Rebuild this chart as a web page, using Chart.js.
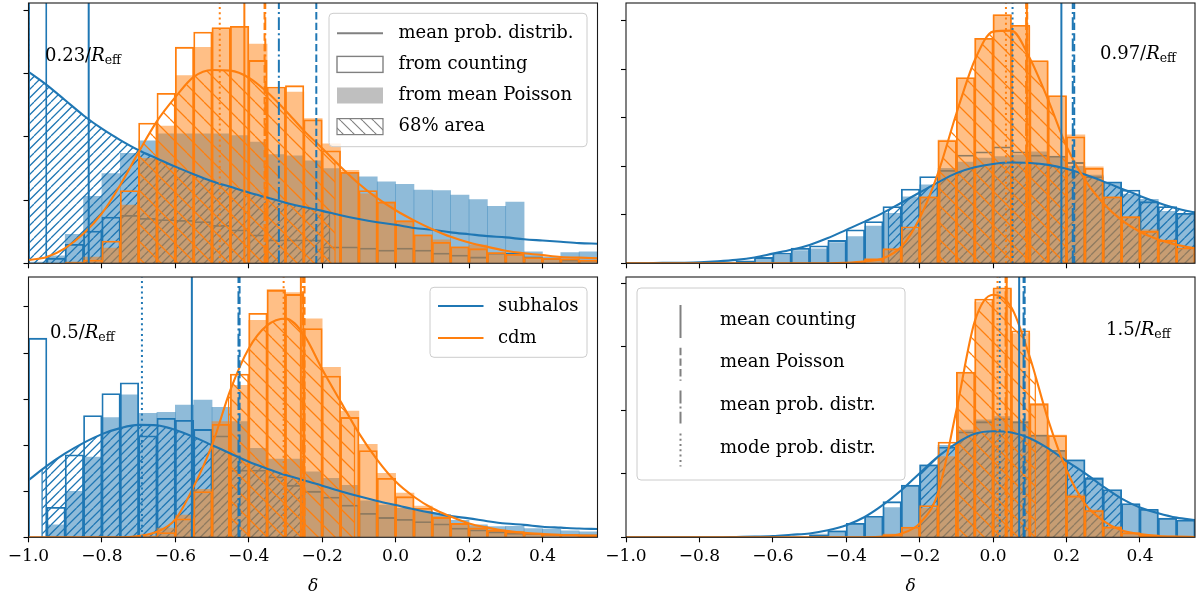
<!DOCTYPE html>
<html><head><meta charset="utf-8">
<script src="https://cdn.jsdelivr.net/npm/chart.js@4.4.1/dist/chart.umd.min.js"></script>
<style>
html,body{margin:0;padding:0;background:#fff;}
body{width:1198px;height:599px;position:relative;overflow:hidden;}
canvas{position:absolute;}
</style></head><body>
<canvas id="c0" width="600" height="270" style="left:0;top:0"></canvas>
<canvas id="c1" width="600" height="270" style="left:598px;top:0"></canvas>
<canvas id="c2" width="600" height="329" style="left:0;top:270px"></canvas>
<canvas id="c3" width="600" height="329" style="left:598px;top:270px"></canvas>
<script>
// ---------------- DATA ----------------
const X_BINS = [-0.975,-0.925,-0.875,-0.825,-0.775,-0.725,-0.675,-0.625,-0.575,-0.525,-0.475,-0.425,-0.375,-0.325,-0.275,-0.225,-0.175,-0.125,-0.075,-0.025,0.025,0.075,0.125,0.175,0.225,0.275,0.325,0.375,0.425,0.475,0.525];
const CURVE_X = [-1.0,-0.95,-0.9,-0.85,-0.8,-0.75,-0.7,-0.65,-0.6,-0.55,-0.5,-0.45,-0.4,-0.35,-0.3,-0.25,-0.2,-0.15,-0.1,-0.05,0.0,0.05,0.1,0.15,0.2,0.25,0.3,0.35,0.4,0.45,0.5,0.55];
const X_TICKS = [-1.0,-0.8,-0.6,-0.4,-0.2,0.0,0.2,0.4];
const SERIES_NAMES = ['subhalos','cdm'];
const DIST_LEGEND = ['mean prob. distrib.','from counting','from mean Poisson','68% area'];
const MARKER_LEGEND = ['mean counting','mean Poisson','mean prob. distr.','mode prob. distr.'];
const PANEL_LABELS = ['0.23','0.97','0.5','1.5'];

// panel 0.23/Reff
const TL_BLUE_POISSON = [0.02,0.12,0.46,1.06,1.42,1.74,1.94,2.05,2.05,2.05,2.05,2.02,1.92,1.72,1.70,1.62,1.50,1.44,1.37,1.29,1.25,1.16,1.15,1.08,1.01,0.90,0.97,0.18,0.10,0.17,0.18];
const TL_BLUE_COUNT = [6.0,0.08,0.30,0.51,0.73,0.76,0.71,0.69,0.68,0.66,0.60,0.53,0.45,0.37,0.37,0.37,0.26,0.26,0.24,0.21,0.24,0.21,0.16,0.13,0.10,0.16,0.16,0.10,0.08,0.05,0.05];
const TL_ORANGE_POISSON = [0,0,0.02,0.10,0.24,0.92,1.66,2.17,2.97,3.42,3.71,3.75,3.47,2.76,2.71,2.29,1.89,1.47,1.10,0.97,0.68,0.45,0.37,0.26,0.29,0.17,0.13,0.10,0.08,0.07,0.05];
const TL_ORANGE_COUNT = [0,0,0.02,0.05,0.35,1.15,2.22,2.69,3.42,3.66,3.73,3.75,3.21,2.79,2.81,2.27,1.78,1.44,1.15,0.97,0.67,0.45,0.33,0.26,0.23,0.17,0.14,0.09,0.08,0.07,0.05];
const TL_BLUE_CURVE = [3.03,2.82,2.58,2.34,2.13,1.95,1.79,1.66,1.53,1.41,1.30,1.21,1.12,1.04,0.96,0.89,0.83,0.76,0.70,0.65,0.61,0.56,0.53,0.49,0.46,0.43,0.41,0.38,0.36,0.34,0.32,0.31];
const TL_ORANGE_CURVE = [0.05,0.10,0.24,0.47,0.79,1.24,1.76,2.25,2.63,2.95,3.06,3.05,2.94,2.71,2.42,2.10,1.82,1.53,1.26,1.03,0.84,0.68,0.54,0.42,0.33,0.26,0.20,0.16,0.13,0.10,0.09,0.08];
const TL_BLUE_HATCH = [-1.0,-0.18,3.03,0.81];     // lo, hi, height at lo, height at hi
const TL_ORANGE_HATCH = [-0.70,-0.165,1.76,1.62];
const TL_BLUE_MARKS = [-0.836,-0.216,-0.318,-1.0]; // mean counting, mean Poisson, mean prob., mode
const TL_ORANGE_MARKS = [-0.412,-0.357,-0.355,-0.479];
const TL_Y_TICKS = [0,1,2,3,4];

// panel 0.97/Reff
const TR_BLUE_POISSON = [0,0,0,0,0,0,0.03,0.08,0.17,0.26,0.30,0.43,0.55,0.77,1.03,1.37,1.62,1.96,2.09,2.17,2.20,2.24,2.30,2.20,2.00,1.82,1.65,1.43,1.32,1.07,1.03];
const TR_BLUE_COUNT = [0,0,0,0,0,0.01,0.05,0.12,0.21,0.31,0.36,0.47,0.69,0.86,1.17,1.53,1.79,1.92,2.23,2.30,2.40,2.30,2.23,2.21,2.08,1.79,1.68,1.51,1.27,1.17,1.03];
const TR_ORANGE_POISSON = [0,0,0,0,0,0,0,0,0,0,0,0,0.02,0.10,0.27,0.69,1.37,2.54,3.81,4.64,5.12,4.88,4.16,3.44,2.65,1.99,1.37,0.96,0.69,0.48,0.31];
const TR_ORANGE_COUNT = [0,0,0,0,0,0,0,0,0,0,0,0,0.01,0.08,0.30,0.75,1.37,2.53,3.83,4.64,5.13,4.91,4.18,3.46,2.61,1.96,1.37,0.96,0.66,0.47,0.32];
const TR_BLUE_CURVE = [0,0,0.01,0.01,0.02,0.04,0.07,0.12,0.20,0.28,0.38,0.52,0.69,0.86,1.04,1.25,1.46,1.67,1.86,1.98,2.05,2.08,2.07,2.03,1.95,1.83,1.69,1.54,1.39,1.25,1.13,1.05];
const TR_ORANGE_CURVE = [0,0,0,0,0,0,0,0,0,0,0,0,0.01,0.04,0.10,0.34,0.93,1.86,3.09,4.19,4.78,4.80,4.23,3.37,2.41,1.72,1.24,0.89,0.65,0.49,0.38,0.31];
const TR_BLUE_HATCH = [-0.285,0.55,1.10,1.05];
const TR_ORANGE_HATCH = [-0.145,0.20,1.98,2.41];
const TR_BLUE_MARKS = [0.186,0.221,0.217,0.053];
const TR_ORANGE_MARKS = [0.092,0.093,0.090,0.035];
const TR_Y_TICKS = [0,1,2,3,4,5];

// panel 0.5/Reff
const BL_BLUE_POISSON = [0,0.27,1.00,1.74,2.60,3.09,2.69,2.71,2.87,2.98,2.82,2.51,1.93,1.70,1.70,1.42,1.28,1.13,0.79,0.70,0.63,0.57,0.50,0.37,0.27,0.23,0.24,0.19,0.18,0.14,0.12];
const BL_BLUE_COUNT = [4.32,0.65,1.79,2.64,3.12,3.35,2.20,2.58,2.54,2.34,2.20,1.46,1.46,1.31,1.13,1.00,0.87,0.70,0.52,0.43,0.39,0.34,0.29,0.20,0.16,0.12,0.09,0.08,0.07,0.06,0.05];
const BL_ORANGE_POISSON = [0,0,0,0,0,0,0.03,0.20,0.48,1.04,2.51,3.30,4.71,5.38,5.31,4.74,3.69,2.74,2.02,1.39,0.96,0.68,0.45,0.30,0.23,0.16,0.12,0.09,0.07,0.06,0.05];
const BL_ORANGE_COUNT = [0,0,0,0,0,0,0.02,0.10,0.40,0.99,2.45,3.54,4.86,5.36,5.27,4.53,3.50,2.60,1.88,1.28,0.88,0.63,0.43,0.30,0.20,0.15,0.12,0.09,0.07,0.06,0.05];
const BL_BLUE_CURVE = [1.24,1.55,1.82,2.05,2.24,2.37,2.44,2.43,2.33,2.18,2.00,1.82,1.64,1.49,1.35,1.24,1.12,1.00,0.89,0.79,0.70,0.61,0.53,0.46,0.41,0.35,0.30,0.27,0.23,0.21,0.19,0.18];
const BL_ORANGE_CURVE = [0,0,0,0,0,0,0.03,0.12,0.39,1.10,2.00,3.20,4.10,4.60,4.75,4.40,3.65,2.95,2.26,1.68,1.21,0.88,0.63,0.45,0.30,0.21,0.14,0.10,0.07,0.05,0.04,0.03];
const BL_BLUE_HATCH = [-0.963,-0.25,1.47,1.24];
const BL_ORANGE_HATCH = [-0.455,-0.112,3.10,2.42];
const BL_BLUE_MARKS = [-0.555,-0.425,-0.428,-0.691];
const BL_ORANGE_MARKS = [-0.258,-0.248,-0.252,-0.305];
const BL_Y_TICKS = [0,1,2,3,4,5];

// panel 1.5/Reff
const BR_BLUE_POISSON = [0,0,0,0,0,0,0,0,0,0,0.05,0.10,0.21,0.30,0.47,0.80,1.14,1.45,1.69,1.85,1.90,1.82,1.61,1.37,1.22,0.94,0.73,0.52,0.42,0.30,0.26];
const BR_BLUE_COUNT = [0,0,0,0,0,0,0,0,0,0,0.03,0.10,0.22,0.33,0.56,0.82,1.14,1.42,1.66,1.82,1.87,1.82,1.61,1.37,1.22,0.93,0.75,0.53,0.44,0.30,0.27];
const BR_ORANGE_POISSON = [0,0,0,0,0,0,0,0,0,0,0,0,0,0,0.05,0.14,0.46,1.27,2.57,3.71,3.90,3.21,2.11,1.61,0.67,0.43,0.17,0.08,0.04,0.02,0.01];
const BR_ORANGE_COUNT = [0,0,0,0,0,0,0,0,0,0,0,0,0,0,0.04,0.16,0.50,1.50,2.60,3.75,3.93,3.25,2.10,1.60,0.65,0.42,0.16,0.07,0.03,0.02,0.01];
const BR_BLUE_CURVE = [0,0,0,0,0,0,0.005,0.01,0.02,0.04,0.06,0.11,0.19,0.32,0.51,0.74,1.01,1.27,1.48,1.63,1.67,1.65,1.56,1.40,1.20,1.01,0.80,0.61,0.47,0.38,0.31,0.27];
const BR_ORANGE_CURVE = [0,0,0,0,0,0,0,0,0,0,0,0,0,0,0.01,0.06,0.22,0.70,2.00,3.40,3.82,3.62,2.84,1.85,1.06,0.53,0.26,0.11,0.05,0.02,0.01,0.005];
const BR_BLUE_HATCH = [-0.20,0.35,1.01,0.61];
const BR_ORANGE_HATCH = [-0.095,0.115,2.15,2.55];
const BR_BLUE_MARKS = [0.071,0.086,0.083,0.018];
const BR_ORANGE_MARKS = [0.037,0.036,0.034,0.012];
const BR_Y_TICKS = [0,1,2,3,4];

// ---------------- STYLE ----------------
const FONT = 'DejaVu Serif';
const BLUE = '#1f77b4', ORANGE = '#ff7f0e';
const BLUE_A = 'rgba(31,119,180,0.5)', ORANGE_A = 'rgba(255,127,14,0.5)';
const GRAY = '#808080';
const DASHES = [[], [7.4,3.2], [12.8,3.2,2,3.2], [2,3.3]];
Chart.defaults.font.family = FONT;
Chart.defaults.color = '#000';

function hatch(color, dir, n, S, lw) {
  const c = document.createElement('canvas'); c.width = S; c.height = S;
  const g = c.getContext('2d'); g.strokeStyle = color; g.lineWidth = lw;
  g.beginPath();
  for (let k = -n; k <= n; k++) {
    const x0 = k * S / n;
    if (dir === '/') { g.moveTo(x0, S); g.lineTo(x0 + S, 0); }
    else { g.moveTo(x0, 0); g.lineTo(x0 + S, S); }
  }
  g.stroke();
  return g.createPattern(c, 'repeat');
}
const BLUE_HATCH_PAT = hatch(BLUE, '/', 2, 17, 1.25);
const ORANGE_HATCH_PAT = hatch(ORANGE, '\\', 1, 17, 1.25);
const LEG_HATCH_PAT = hatch(GRAY, '\\', 1, 11, 1.1);

const fmtTick = v => (v < -1e-9 ? '\u2212' : '') + Math.abs(v).toFixed(1);

function rrect(ctx, x, y, w, h, r) {
  ctx.beginPath();
  ctx.moveTo(x + r, y); ctx.lineTo(x + w - r, y); ctx.arcTo(x + w, y, x + w, y + r, r);
  ctx.lineTo(x + w, y + h - r); ctx.arcTo(x + w, y + h, x + w - r, y + h, r);
  ctx.lineTo(x + r, y + h); ctx.arcTo(x, y + h, x, y + h - r, r);
  ctx.lineTo(x, y + r); ctx.arcTo(x, y, x + r, y, r); ctx.closePath();
}
function legendFrame(ctx, x, y, w, h) {
  rrect(ctx, x, y, w, h, 4);
  ctx.fillStyle = 'rgba(255,255,255,0.8)'; ctx.fill();
  ctx.strokeStyle = '#cccccc'; ctx.lineWidth = 1; ctx.stroke();
}
function legText(ctx, s, x, y) {
  ctx.font = `18px ${FONT}`; ctx.fillStyle = '#000'; ctx.textAlign = 'left'; ctx.textBaseline = 'middle';
  ctx.fillText(s, x, y);
}

function makeDecor(L) {
  return {
    id: 'decor',
    afterDraw(chart) {
      const ctx = chart.ctx, a = chart.chartArea;
      ctx.save();
      // frame (spines)
      ctx.strokeStyle = '#1a1a1a'; ctx.lineWidth = 1.1; ctx.setLineDash([]);
      ctx.strokeRect(a.left, a.top, a.right - a.left, a.bottom - a.top);
      // panel label  e.g. 0.23/R_eff
      let x = a.left + L.labX, y = a.top + L.labY;
      ctx.fillStyle = '#000'; ctx.textBaseline = 'alphabetic'; ctx.textAlign = 'left';
      ctx.font = `18px ${FONT}`; ctx.fillText(L.lab + '/', x, y); x += ctx.measureText(L.lab + '/').width;
      ctx.font = `italic 18px ${FONT}`; ctx.fillText('R', x, y); x += ctx.measureText('R').width;
      ctx.font = `12.5px ${FONT}`; ctx.fillText('eff', x, y + 3);
      // x title
      if (L.xtitle) {
        ctx.font = `italic 17px ${FONT}`; ctx.textAlign = 'center';
        ctx.fillText('\u03b4', (a.left + a.right) / 2, a.bottom + 53.5);
      }
      // legends
      if (L.legend === 'dist') {
        const w = 258, h = 133.4, bx = a.right - 10.5 - w, by = a.top + 10.3;
        legendFrame(ctx, bx, by, w, h);
        const hx = bx + 8, hw = 46, tx = bx + 69.5;
        DIST_LEGEND.forEach((s, i) => {
          const ry = by + 20 + 31.1 * i;
          if (i === 0) { ctx.strokeStyle = GRAY; ctx.lineWidth = 2; ctx.beginPath(); ctx.moveTo(hx, ry); ctx.lineTo(hx + hw, ry); ctx.stroke(); }
          if (i === 1) { ctx.fillStyle = '#fff'; ctx.fillRect(hx, ry - 8, hw, 16); ctx.strokeStyle = GRAY; ctx.lineWidth = 1.4; ctx.strokeRect(hx, ry - 8, hw, 16); }
          if (i === 2) { ctx.fillStyle = 'rgba(128,128,128,0.5)'; ctx.fillRect(hx, ry - 8, hw, 16); }
          if (i === 3) { ctx.fillStyle = '#fff'; ctx.fillRect(hx, ry - 8, hw, 16); ctx.fillStyle = LEG_HATCH_PAT; ctx.fillRect(hx, ry - 8, hw, 16); ctx.strokeStyle = GRAY; ctx.lineWidth = 1.2; ctx.strokeRect(hx, ry - 8, hw, 16); }
          legText(ctx, s, tx, ry);
        });
      }
      if (L.legend === 'series') {
        const w = 157, h = 70, bx = a.right - 10.5 - w, by = a.top + 10.3;
        legendFrame(ctx, bx, by, w, h);
        [BLUE, ORANGE].forEach((c, i) => {
          const ry = by + 18.7 + 32 * i;
          ctx.strokeStyle = c; ctx.lineWidth = 2; ctx.beginPath(); ctx.moveTo(bx + 8, ry); ctx.lineTo(bx + 53.5, ry); ctx.stroke();
          legText(ctx, SERIES_NAMES[i], bx + 68, ry);
        });
      }
      if (L.legend === 'markers') {
        const w = 268, h = 192, bx = a.left + 11, by = a.top + 11;
        legendFrame(ctx, bx, by, w, h);
        MARKER_LEGEND.forEach((s, i) => {
          const ry = by + 32 + 42.8 * i;
          ctx.strokeStyle = GRAY; ctx.lineWidth = 2; ctx.setLineDash(DASHES[i]);
          ctx.beginPath(); ctx.moveTo(bx + 43.5, ry - 15); ctx.lineTo(bx + 43.5, ry + 18); ctx.stroke();
          ctx.setLineDash([]);
          legText(ctx, s, bx + 83, ry);
        });
      }
      ctx.restore();
    }
  };
}

const pts = (xs, ys) => xs.map((x, i) => ({x, y: ys[i]}));
function hatchPts(curve, h) {
  const [lo, hi, hLo, hHi] = h;
  const inner = CURVE_X.map((x, i) => ({x, y: curve[i]})).filter(p => p.x > lo + 1e-6 && p.x < hi - 1e-6);
  return [{x: lo, y: hLo}, ...inner, {x: hi, y: hHi}];
}

function makePanel(id, P, L) {
  const barBase = {type: 'bar', grouped: false, barPercentage: 1, categoryPercentage: 1, clip: 0};
  const lineBase = {type: 'line', pointRadius: 0, clip: 0, fill: false};
  const ds = [];
  const series = [
    {c: BLUE, a: BLUE_A, pat: BLUE_HATCH_PAT, P: P.blueP, C: P.blueC, curve: P.blueCurve, h: P.blueHatch, m: P.blueMarks, base: 100},
    {c: ORANGE, a: ORANGE_A, pat: ORANGE_HATCH_PAT, P: P.orangeP, C: P.orangeC, curve: P.orangeCurve, h: P.orangeHatch, m: P.orangeMarks, base: 70}
  ];
  series.forEach((s, k) => {
    ds.push({...barBase, data: pts(X_BINS, s.P), backgroundColor: s.a, borderWidth: 0, order: s.base});
    ds.push({...barBase, data: pts(X_BINS, s.C), backgroundColor: 'rgba(0,0,0,0)', borderColor: s.c, borderWidth: 1, inflateAmount: 0.4, order: s.base - 5});
    ds.push({...lineBase, data: hatchPts(s.curve, s.h), fill: 'origin', backgroundColor: s.pat, borderWidth: 0, borderColor: 'rgba(0,0,0,0)', cubicInterpolationMode: 'monotone', order: s.base - 10});
    ds.push({...lineBase, data: [{x: s.h[0], y: 0}, {x: s.h[0], y: s.h[2]}], borderColor: s.c, borderWidth: 1.2, order: s.base - 10});
    ds.push({...lineBase, data: [{x: s.h[1], y: 0}, {x: s.h[1], y: s.h[3]}], borderColor: s.c, borderWidth: 1.2, order: s.base - 10});
    ds.push({...lineBase, data: pts(CURVE_X, s.curve), borderColor: s.c, borderWidth: 2.1, cubicInterpolationMode: 'monotone', order: 20 - k});
    s.m.forEach((v, j) => {
      ds.push({...lineBase, data: [{x: v, y: 0}, {x: v, y: P.ymax}], borderColor: s.c, borderWidth: 2, borderDash: DASHES[j], borderCapStyle: 'butt', order: 10 - k});
    });
  });
  new Chart(document.getElementById(id), {
    type: 'bar',
    data: {datasets: ds},
    plugins: [makeDecor(L)],
    options: {
      responsive: false, animation: false, devicePixelRatio: 1, events: [],
      layout: {padding: {left: 0, right: L.padR, top: L.padT, bottom: 0}},
      plugins: {legend: {display: false}, tooltip: {enabled: false}},
      scales: {
        x: {
          type: 'linear', min: -1.0, max: 0.55, offset: false,
          grid: {offset: false, drawOnChartArea: false, drawTicks: true, tickLength: 5, tickColor: '#000', tickWidth: 1.1},
          border: {display: false},
          ticks: {display: L.xtitle, font: {family: FONT, size: 17}, color: '#000', padding: 4, maxRotation: 0, autoSkip: false, callback: fmtTick},
          afterBuildTicks: s => { s.ticks = X_TICKS.map(v => ({value: v})); },
          afterFit: s => { s.height = L.xH; }
        },
        y: {
          type: 'linear', min: 0, max: P.ymax,
          grid: {drawOnChartArea: false, drawTicks: true, tickLength: 5, tickColor: '#000', tickWidth: 1.1},
          border: {display: false},
          ticks: {display: false},
          afterBuildTicks: s => { s.ticks = P.yTicks.map(v => ({value: v})); },
          afterFit: s => { s.width = L.yW; }
        }
      }
    }
  });
}

makePanel('c0', {blueP: TL_BLUE_POISSON, blueC: TL_BLUE_COUNT, orangeP: TL_ORANGE_POISSON, orangeC: TL_ORANGE_COUNT, blueCurve: TL_BLUE_CURVE, orangeCurve: TL_ORANGE_CURVE, blueHatch: TL_BLUE_HATCH, orangeHatch: TL_ORANGE_HATCH, blueMarks: TL_BLUE_MARKS, orangeMarks: TL_ORANGE_MARKS, yTicks: TL_Y_TICKS, ymax: 4.12},
  {yW: 28.5, padR: 2.5, padT: 3, xH: 6.7, xtitle: false, lab: PANEL_LABELS[0], labX: 16.5, labY: 58, legend: 'dist'});
makePanel('c1', {blueP: TR_BLUE_POISSON, blueC: TR_BLUE_COUNT, orangeP: TR_ORANGE_POISSON, orangeC: TR_ORANGE_COUNT, blueCurve: TR_BLUE_CURVE, orangeCurve: TR_ORANGE_CURVE, blueHatch: TR_BLUE_HATCH, orangeHatch: TR_ORANGE_HATCH, blueMarks: TR_BLUE_MARKS, orangeMarks: TR_ORANGE_MARKS, yTicks: TR_Y_TICKS, ymax: 5.37},
  {yW: 28, padR: 3, padT: 3, xH: 6.7, xtitle: false, lab: PANEL_LABELS[1], labX: 474, labY: 56, legend: null});
makePanel('c2', {blueP: BL_BLUE_POISSON, blueC: BL_BLUE_COUNT, orangeP: BL_ORANGE_POISSON, orangeC: BL_ORANGE_COUNT, blueCurve: BL_BLUE_CURVE, orangeCurve: BL_ORANGE_CURVE, blueHatch: BL_BLUE_HATCH, orangeHatch: BL_ORANGE_HATCH, blueMarks: BL_BLUE_MARKS, orangeMarks: BL_ORANGE_MARKS, yTicks: BL_Y_TICKS, ymax: 5.65},
  {yW: 28.5, padR: 2.5, padT: 7, xH: 61.7, xtitle: true, lab: PANEL_LABELS[2], labX: 21.5, labY: 61, legend: 'series'});
makePanel('c3', {blueP: BR_BLUE_POISSON, blueC: BR_BLUE_COUNT, orangeP: BR_ORANGE_POISSON, orangeC: BR_ORANGE_COUNT, blueCurve: BR_BLUE_CURVE, orangeCurve: BR_ORANGE_CURVE, blueHatch: BR_BLUE_HATCH, orangeHatch: BR_ORANGE_HATCH, blueMarks: BR_BLUE_MARKS, orangeMarks: BR_ORANGE_MARKS, yTicks: BR_Y_TICKS, ymax: 4.10},
  {yW: 28, padR: 3, padT: 7, xH: 61.7, xtitle: true, lab: PANEL_LABELS[3], labX: 480, labY: 58, legend: 'markers'});
</script>
</body></html>
